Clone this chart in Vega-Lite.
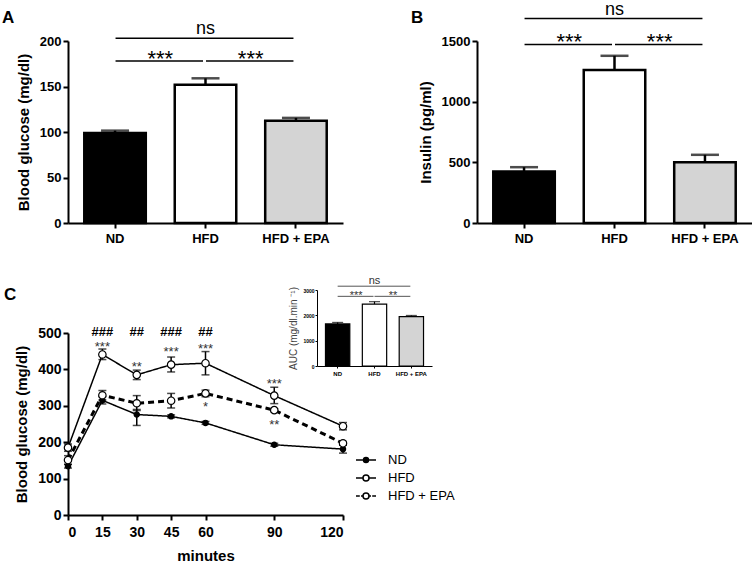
{
  "$schema": "https://vega.github.io/schema/vega-lite/v6.json",
  "padding": {"left": 2, "top": 0, "right": 0, "bottom": 0},
  "background": "white",
  "config": {
    "font": "Liberation Sans",
    "view": {"stroke": null},
    "axis": {"domainColor": "black", "domainWidth": 2, "tickColor": "black", "tickWidth": 2, "tickSize": 5, "labelFontWeight": "bold", "labelFontSize": 13, "labelColor": "black", "titleFontWeight": "bold", "titleFontSize": 15, "titleColor": "black", "grid": false, "labelPadding": 2, "labelOverlap": false},
    "title": {"anchor": "start", "frame": "group", "fontSize": 17, "fontWeight": "bold", "color": "black", "offset": 0}
  },
  "datasets": {
    "glucose": [
      {"group": "ND", "mean": 99, "hi": 101.5},
      {"group": "HFD", "mean": 152, "hi": 159},
      {"group": "HFD + EPA", "mean": 112.5, "hi": 115.5}
    ],
    "insulin": [
      {"group": "ND", "mean": 425, "hi": 460},
      {"group": "HFD", "mean": 1260, "hi": 1378},
      {"group": "HFD + EPA", "mean": 501, "hi": 562}
    ],
    "auc": [
      {"group": "ND", "mean": 1660, "hi": 1720},
      {"group": "HFD", "mean": 2440, "hi": 2540},
      {"group": "HFD + EPA", "mean": 1950, "hi": 1995}
    ],
    "sigA": [
      {"from": "ND", "to": "HFD", "y": 178, "label": "***", "ty": 173},
      {"from": "HFD", "to": "HFD + EPA", "y": 178, "label": "***", "ty": 173},
      {"from": "ND", "to": "HFD + EPA", "y": 203, "label": "ns", "ty": 207.5}
    ],
    "sigB": [
      {"from": "ND", "to": "HFD", "y": 1472, "label": "***", "ty": 1437},
      {"from": "HFD", "to": "HFD + EPA", "y": 1472, "label": "***", "ty": 1437},
      {"from": "ND", "to": "HFD + EPA", "y": 1685, "label": "ns", "ty": 1716}
    ],
    "sigAuc": [
      {"from": "ND", "to": "HFD", "y": 2750, "label": "***", "ty": 2655},
      {"from": "HFD", "to": "HFD + EPA", "y": 2750, "label": "**", "ty": 2655},
      {"from": "ND", "to": "HFD + EPA", "y": 3150, "label": "ns", "ty": 3237}
    ],
    "ogtt": [
      {"group": "ND", "t": 0, "mean": 134, "lo": 129, "hi": 139},
      {"group": "ND", "t": 15, "mean": 315, "lo": 305, "hi": 325},
      {"group": "ND", "t": 30, "mean": 276, "lo": 246, "hi": 290},
      {"group": "ND", "t": 45, "mean": 271, "lo": 267, "hi": 275},
      {"group": "ND", "t": 60, "mean": 253, "lo": 249, "hi": 257},
      {"group": "ND", "t": 90, "mean": 193, "lo": 189, "hi": 197},
      {"group": "ND", "t": 120, "mean": 181, "lo": 170, "hi": 192},
      {"group": "HFD", "t": 0, "mean": 185, "lo": 175, "hi": 195},
      {"group": "HFD", "t": 15, "mean": 441, "lo": 427, "hi": 456},
      {"group": "HFD", "t": 30, "mean": 385, "lo": 372, "hi": 398},
      {"group": "HFD", "t": 45, "mean": 413, "lo": 393, "hi": 434},
      {"group": "HFD", "t": 60, "mean": 417, "lo": 385, "hi": 449},
      {"group": "HFD", "t": 90, "mean": 328, "lo": 306, "hi": 351},
      {"group": "HFD", "t": 120, "mean": 244, "lo": 234, "hi": 254},
      {"group": "HFD + EPA", "t": 0, "mean": 151, "lo": 139, "hi": 163},
      {"group": "HFD + EPA", "t": 15, "mean": 329, "lo": 316, "hi": 342},
      {"group": "HFD + EPA", "t": 30, "mean": 307, "lo": 287, "hi": 328},
      {"group": "HFD + EPA", "t": 45, "mean": 314, "lo": 294, "hi": 334},
      {"group": "HFD + EPA", "t": 60, "mean": 334, "lo": 325, "hi": 343},
      {"group": "HFD + EPA", "t": 90, "mean": 288, "lo": 284, "hi": 292},
      {"group": "HFD + EPA", "t": 120, "mean": 197, "lo": 192, "hi": 202}
    ],
    "ogttSig": [
      {"t": 15, "label": "###", "ty": 491, "kind": "hash"},
      {"t": 30, "label": "##", "ty": 491, "kind": "hash"},
      {"t": 45, "label": "###", "ty": 491, "kind": "hash"},
      {"t": 60, "label": "##", "ty": 491, "kind": "hash"},
      {"t": 15, "label": "***", "ty": 451, "kind": "star"},
      {"t": 30, "label": "**", "ty": 396, "kind": "star"},
      {"t": 45, "label": "***", "ty": 437, "kind": "star"},
      {"t": 60, "label": "***", "ty": 446, "kind": "star"},
      {"t": 90, "label": "***", "ty": 348, "kind": "star"},
      {"t": 60, "label": "*", "ty": 287, "kind": "star"},
      {"t": 90, "label": "**", "ty": 235, "kind": "star"}
    ]
  },
  "columns": 2,
  "spacing": {"row": 110, "column": 134},
  "bounds": "flush",
  "concat": [
    {
      "title": {"text": "A", "dx": -66, "dy": 11},
      "width": 275,
      "height": 182,
      "layer": [
        {
          "data": {"name": "glucose"},
          "layer": [
            {
              "mark": {"type": "rule", "strokeWidth": 2.5, "color": "black"},
              "encoding": {
                "x": {"field": "group", "type": "nominal", "sort": null, "scale": {"domain": ["ND", "HFD", "HFD + EPA"], "paddingInner": 0.32, "paddingOuter": 0.18}, "axis": {"title": null, "labelAngle": 0, "labelPadding": 4}},
                "y": {"field": "mean", "type": "quantitative", "scale": {"domain": [0, 200], "nice": false}, "axis": {"title": "Blood glucose (mg/dl)", "values": [0, 50, 100, 150, 200], "format": "d", "titlePadding": 8, "labelOverlap": false}},
                "y2": {"field": "hi"}
              }
            },
            {
              "mark": {"type": "tick", "orient": "horizontal", "size": 28, "thickness": 2.5, "color": "black"},
              "encoding": {
                "x": {"field": "group", "type": "nominal", "sort": null},
                "y": {"field": "hi", "type": "quantitative"}
              }
            },
            {
              "mark": {"type": "bar", "stroke": "black", "strokeWidth": 2.5},
              "encoding": {
                "x": {"field": "group", "type": "nominal", "sort": null},
                "y": {"field": "mean", "type": "quantitative"},
                "fill": {"field": "group", "type": "nominal", "scale": {"domain": ["HFD + EPA", "ND", "HFD"], "range": ["#d4d4d4", "black", "white"]}, "legend": null}
              }
            }
          ]
        },
        {
          "data": {"name": "sigA"},
          "layer": [
            {
              "mark": {"type": "rule", "strokeWidth": 1.5, "color": "black", "xOffset": 0.5, "x2Offset": -2.5},
              "encoding": {
                "x": {"field": "from", "type": "nominal"},
                "x2": {"field": "to"},
                "y": {"field": "y", "type": "quantitative"}
              }
            },
            {
              "transform": [{"filter": "datum.label !== 'ns'"}],
              "mark": {"type": "text", "fontSize": 22, "baseline": "alphabetic", "color": "black"},
              "encoding": {
                "x": {"field": "from", "type": "nominal", "bandPosition": 1.235},
                "y": {"field": "ty", "type": "quantitative"},
                "text": {"field": "label"}
              }
            },
            {
              "transform": [{"filter": "datum.label === 'ns'"}],
              "mark": {"type": "text", "fontSize": 18, "baseline": "alphabetic", "color": "black"},
              "encoding": {
                "x": {"field": "from", "type": "nominal", "bandPosition": 1.97},
                "y": {"field": "ty", "type": "quantitative"},
                "text": {"field": "label"}
              }
            }
          ]
        }
      ]
    },
    {
      "title": {"text": "B", "dx": -66, "dy": 30},
      "width": 275,
      "height": 182,
      "layer": [
        {
          "data": {"name": "insulin"},
          "layer": [
            {
              "mark": {"type": "rule", "strokeWidth": 2.5, "color": "black"},
              "encoding": {
                "x": {"field": "group", "type": "nominal", "sort": null, "scale": {"domain": ["ND", "HFD", "HFD + EPA"], "paddingInner": 0.32, "paddingOuter": 0.18}, "axis": {"title": null, "labelAngle": 0, "labelPadding": 4}},
                "y": {"field": "mean", "type": "quantitative", "scale": {"domain": [0, 1500], "nice": false}, "axis": {"title": "Insulin (pg/ml)", "values": [0, 500, 1000, 1500], "format": "d", "titlePadding": 8, "labelOverlap": false}},
                "y2": {"field": "hi"}
              }
            },
            {
              "mark": {"type": "tick", "orient": "horizontal", "size": 28, "thickness": 2.5, "color": "black"},
              "encoding": {
                "x": {"field": "group", "type": "nominal", "sort": null},
                "y": {"field": "hi", "type": "quantitative"}
              }
            },
            {
              "mark": {"type": "bar", "stroke": "black", "strokeWidth": 2.5},
              "encoding": {
                "x": {"field": "group", "type": "nominal", "sort": null},
                "y": {"field": "mean", "type": "quantitative"},
                "fill": {"field": "group", "type": "nominal", "scale": {"domain": ["HFD + EPA", "ND", "HFD"], "range": ["#d4d4d4", "black", "white"]}, "legend": null}
              }
            }
          ]
        },
        {
          "data": {"name": "sigB"},
          "layer": [
            {
              "mark": {"type": "rule", "strokeWidth": 1.5, "color": "black", "xOffset": 0.5, "x2Offset": -2.5},
              "encoding": {
                "x": {"field": "from", "type": "nominal"},
                "x2": {"field": "to"},
                "y": {"field": "y", "type": "quantitative"}
              }
            },
            {
              "transform": [{"filter": "datum.label !== 'ns'"}],
              "mark": {"type": "text", "fontSize": 22, "baseline": "alphabetic", "color": "black"},
              "encoding": {
                "x": {"field": "from", "type": "nominal", "bandPosition": 1.235},
                "y": {"field": "ty", "type": "quantitative"},
                "text": {"field": "label"}
              }
            },
            {
              "transform": [{"filter": "datum.label === 'ns'"}],
              "mark": {"type": "text", "fontSize": 18, "baseline": "alphabetic", "color": "black"},
              "encoding": {
                "x": {"field": "from", "type": "nominal", "bandPosition": 1.97},
                "y": {"field": "ty", "type": "quantitative"},
                "text": {"field": "label"}
              }
            }
          ]
        }
      ]
    },
    {
      "title": {"text": "C", "dx": -64, "dy": 33},
      "width": 275,
      "height": 182,
      "layer": [
        {
          "data": {"name": "ogtt"},
          "layer": [
            {
              "mark": {"type": "line", "color": "black"},
              "encoding": {
                "x": {"field": "t", "type": "quantitative", "scale": {"domain": [0, 120], "nice": false}, "axis": {"title": "minutes", "values": [0, 15, 30, 45, 60, 90, 120], "labelFontSize": 14, "labelPadding": 5, "titlePadding": 9, "titleFontSize": 15, "labelOverlap": false}},
                "y": {"field": "mean", "type": "quantitative", "scale": {"domain": [0, 500], "nice": false}, "axis": {"title": "Blood glucose (mg/dl)", "values": [0, 100, 200, 300, 400, 500], "tickCount": 6, "format": "d", "titlePadding": 8, "labelFontSize": 14, "labelOverlap": false}},
                "detail": {"field": "group"},
                "strokeDash": {"field": "group", "type": "nominal", "scale": {"domain": ["HFD", "ND", "HFD + EPA"], "range": [[1, 0], [1, 0], [6, 4]]}, "legend": null},
                "strokeWidth": {"field": "group", "type": "nominal", "scale": {"type": "ordinal", "domain": ["HFD", "ND", "HFD + EPA"], "range": [1.5, 1.5, 3]}, "legend": null}
              }
            },
            {
              "mark": {"type": "rule", "color": "black", "strokeWidth": 1.5},
              "encoding": {
                "x": {"field": "t", "type": "quantitative"},
                "y": {"field": "lo", "type": "quantitative"},
                "y2": {"field": "hi"}
              }
            },
            {
              "mark": {"type": "tick", "orient": "horizontal", "size": 8, "thickness": 1.5, "color": "black"},
              "encoding": {
                "x": {"field": "t", "type": "quantitative"},
                "y": {"field": "lo", "type": "quantitative"}
              }
            },
            {
              "mark": {"type": "tick", "orient": "horizontal", "size": 8, "thickness": 1.5, "color": "black"},
              "encoding": {
                "x": {"field": "t", "type": "quantitative"},
                "y": {"field": "hi", "type": "quantitative"}
              }
            },
            {
              "mark": {"type": "point", "shape": "circle", "stroke": "black", "strokeWidth": 1.2, "opacity": 1, "filled": true},
              "encoding": {
                "x": {"field": "t", "type": "quantitative"},
                "y": {"field": "mean", "type": "quantitative"},
                "fill": {"field": "group", "type": "nominal", "scale": {"domain": ["ND", "HFD", "HFD + EPA"], "range": ["black", "white", "white"]}, "legend": {"title": null, "orient": "none", "legendX": 287, "legendY": 116, "symbolSize": 400, "symbolOpacity": 1, "symbolStrokeColor": "black", "symbolStrokeWidth": 1.5, "labelFontSize": 13, "labelColor": "black", "labelOffset": 11, "rowPadding": 0}},
                "size": {"field": "group", "type": "nominal", "scale": {"type": "ordinal", "domain": ["HFD", "ND", "HFD + EPA"], "range": [55, 28, 55]}, "legend": null}
              }
            },
            {
              "transform": [{"filter": "datum.t === 0"}],
              "mark": {"type": "point", "strokeWidth": 1.5, "opacity": 0, "filled": true},
              "encoding": {
                "x": {"field": "t", "type": "quantitative"},
                "y": {"field": "mean", "type": "quantitative"},
                "fill": {"field": "group", "type": "nominal", "legend": {"title": null, "orient": "none", "legendX": 287, "legendY": 116, "symbolSize": 400, "symbolOpacity": 1, "symbolStrokeColor": "black", "symbolStrokeWidth": 1.5, "labelFontSize": 13, "labelColor": "black", "labelOffset": 11, "rowPadding": 0}},
                "stroke": {"field": "group", "type": "nominal", "scale": {"domain": ["ND", "HFD", "HFD + EPA"], "range": ["black", "black", "black"]}, "legend": {"title": null, "orient": "none", "legendX": 287, "legendY": 116, "symbolSize": 400, "symbolOpacity": 1, "symbolStrokeWidth": 1.5, "labelFontSize": 13, "labelColor": "black", "labelOffset": 11, "rowPadding": 0}},
                "shape": {"field": "group", "type": "nominal", "scale": {"domain": ["ND", "HFD", "HFD + EPA"], "range": ["M-1,0H1M0.25,0A0.25,0.25,0,1,1,-0.25,0A0.25,0.25,0,1,1,0.25,0Z", "M-1,0H-0.3M0.3,0H1M0.3,0A0.3,0.3,0,1,1,-0.3,0A0.3,0.3,0,1,1,0.3,0Z", "M-1,0H-0.62M-0.5,0H-0.3M0.3,0H0.5M0.62,0H1M0.3,0A0.3,0.3,0,1,1,-0.3,0A0.3,0.3,0,1,1,0.3,0Z"]}, "legend": {"title": null, "orient": "none", "legendX": 287, "legendY": 116, "symbolSize": 400, "symbolOpacity": 1, "symbolStrokeColor": "black", "symbolStrokeWidth": 1.5, "labelFontSize": 13, "labelColor": "black", "labelOffset": 11, "rowPadding": 0}}
              }
            },
            {
              "data": {"name": "ogttSig"},
              "transform": [{"filter": "datum.kind === 'hash'"}],
              "mark": {"type": "text", "fontSize": 13, "fontWeight": "bold", "baseline": "alphabetic", "color": "black"},
              "encoding": {
                "x": {"field": "t", "type": "quantitative"},
                "y": {"field": "ty", "type": "quantitative"},
                "text": {"field": "label"}
              }
            },
            {
              "data": {"name": "ogttSig"},
              "transform": [{"filter": "datum.kind === 'star'"}],
              "mark": {"type": "text", "fontSize": 13, "baseline": "alphabetic", "color": "#333"},
              "encoding": {
                "x": {"field": "t", "type": "quantitative"},
                "y": {"field": "ty", "type": "quantitative"},
                "text": {"field": "label"}
              }
            }
          ]
        },
        {
          "layer": [
            {
              "data": {"name": "auc"},
              "layer": [
                {
                  "mark": {"type": "rule", "strokeWidth": 1.2, "color": "black"},
                  "encoding": {
                    "x": {"field": "group", "type": "nominal", "sort": null, "scale": {"domain": ["ND", "HFD", "HFD + EPA"], "range": [249, 364], "paddingInner": 0.34, "paddingOuter": 0.23}, "axis": {"orient": "bottom", "offset": -149, "title": null, "labelAngle": 0, "labelFontSize": 6, "labelPadding": 2, "tickSize": 2, "tickWidth": 1, "domainWidth": 1}},
                    "y": {"field": "mean", "type": "quantitative", "scale": {"domain": [0, 3000], "nice": false, "range": [33, -43]}, "axis": {"orient": "left", "offset": -249, "title": "AUC (mg/dl.min ⁻¹)", "values": [0, 1000, 2000, 3000], "format": "d", "labelFontSize": 5, "labelPadding": 1, "tickSize": 2, "tickWidth": 1, "domainWidth": 1, "titleFontSize": 10, "titleFontWeight": "normal", "titleColor": "#444", "titlePadding": 4}},
                    "y2": {"field": "hi"}
                  }
                },
                {
                  "mark": {"type": "tick", "orient": "horizontal", "size": 11, "thickness": 1.2, "color": "black"},
                  "encoding": {
                    "x": {"field": "group", "type": "nominal", "sort": null},
                    "y": {"field": "hi", "type": "quantitative"}
                  }
                },
                {
                  "mark": {"type": "bar", "stroke": "black", "strokeWidth": 1.2},
                  "encoding": {
                    "x": {"field": "group", "type": "nominal", "sort": null},
                    "y": {"field": "mean", "type": "quantitative"},
                    "fill": {"field": "group", "type": "nominal", "scale": {"domain": ["HFD + EPA", "ND", "HFD"], "range": ["#d4d4d4", "black", "white"]}, "legend": null}
                  }
                }
              ]
            },
            {
              "data": {"name": "sigAuc"},
              "layer": [
                {
                  "mark": {"type": "rule", "strokeWidth": 1, "color": "#555", "x2Offset": -1},
                  "encoding": {
                    "x": {"field": "from", "type": "nominal"},
                    "x2": {"field": "to"},
                    "y": {"field": "y", "type": "quantitative"}
                  }
                },
                {
                  "transform": [{"filter": "datum.label !== 'ns'"}],
                  "mark": {"type": "text", "fontSize": 11, "baseline": "alphabetic", "color": "#333"},
                  "encoding": {
                    "x": {"field": "from", "type": "nominal", "bandPosition": 1.258},
                    "y": {"field": "ty", "type": "quantitative"},
                    "text": {"field": "label"}
                  }
                },
                {
                  "transform": [{"filter": "datum.label === 'ns'"}],
                  "mark": {"type": "text", "fontSize": 11, "baseline": "alphabetic", "color": "#333"},
                  "encoding": {
                    "x": {"field": "from", "type": "nominal", "bandPosition": 2.015},
                    "y": {"field": "ty", "type": "quantitative"},
                    "text": {"field": "label"}
                  }
                }
              ]
            }
          ]
        }
      ],
      "resolve": {"scale": {"x": "independent", "y": "independent", "fill": "independent", "shape": "independent", "stroke": "independent"}}
    }
  ]
}
